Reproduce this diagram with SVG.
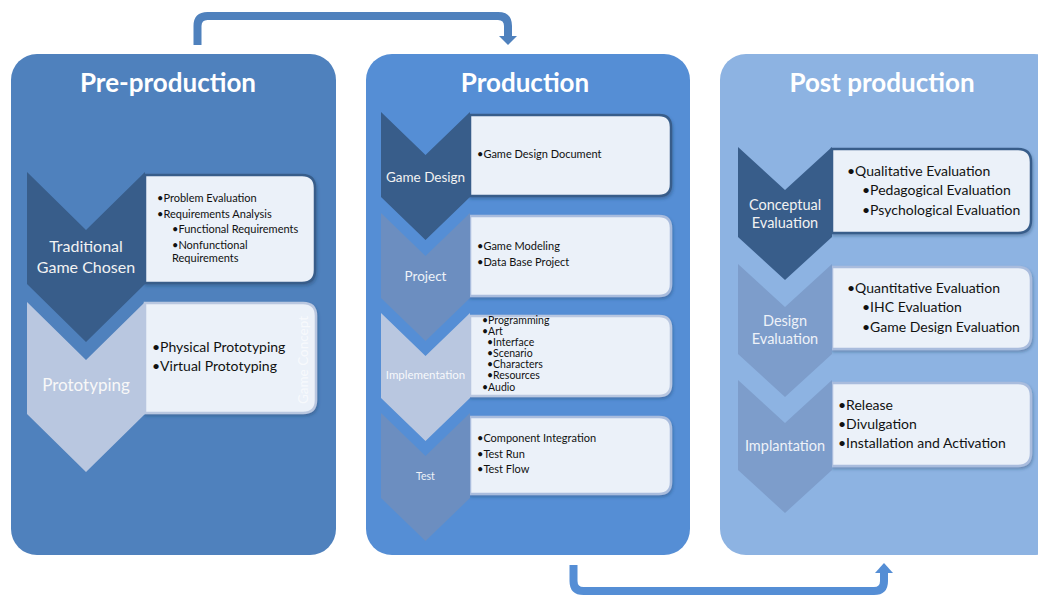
<svg xmlns="http://www.w3.org/2000/svg" width="1038" height="595" viewBox="0 0 1038 595">
  <defs>
    <filter id="shadow" x="-10%" y="-10%" width="125%" height="130%">
      <feDropShadow dx="1" dy="2" stdDeviation="1.5" flood-color="#1F3A5F" flood-opacity="0.35"/>
    </filter>
  </defs>
  <style>
    .title { font-family: "Lato", "Liberation Sans", sans-serif; font-weight: bold; font-size: 26px; fill: #FFFFFF; text-anchor: middle; }
    .lbl { font-family: "Lato", "Liberation Sans", sans-serif; text-anchor: middle; }
    .item { font-family: "Lato", "Liberation Sans", sans-serif; fill: #111111; }
    .box { fill: #EBF1F9; stroke-width: 2.5; filter: url(#shadow); }
    .dark { fill: #385D8A; }
    .mid2 { fill: #6C8EC0; }
    .mid3 { fill: #7D9DCB; }
    .light { fill: #B9C7E0; }
    .conn { fill: none; stroke-width: 8; stroke-linejoin: round; }
  </style>

  <!-- connectors between the phases -->
  <g id="connectors">
    <path class="conn" stroke="#4F81BD" d="M197.5,45 V26 Q197.5,16 207.5,16 H498 Q508,16 508,26 V37"/>
    <polygon fill="#4F81BD" points="499,36 517,36 508,45"/>
    <path class="conn" stroke="#558ED5" d="M573.5,565 V581 Q573.5,591 583.5,591 H874 Q884,591 884,581 V572"/>
    <polygon fill="#558ED5" points="875,573 893,573 884,563"/>
  </g>

  <!-- Pre-production phase -->
  <g id="pre-production">
    <rect x="11" y="54" width="325" height="501" rx="26" fill="#4F81BD"/>
    <text class="title" x="168" y="92">Pre-production</text>

    <g id="traditional-game-chosen">
      <path class="box" stroke="#385D8A" d="M145,175 H302 Q315,175 315,188 V270 Q315,283 302,283 H145 Z"/>
      <path class="dark" d="M27,172 L86,230 L145,172 V284 L86,342 L27,284 Z"/>
      <text class="lbl" x="86" y="252" font-size="16" fill="#F2F2F2">Traditional</text>
      <text class="lbl" x="86" y="273" font-size="16" fill="#F2F2F2">Game Chosen</text>
      <g class="item" font-size="11">
        <text x="157" y="202">•Problem Evaluation</text>
        <text x="157" y="218">•Requirements Analysis</text>
        <text x="172" y="233">•Functional Requirements</text>
        <text x="172" y="249">•Nonfunctional</text>
        <text x="172" y="262">Requirements</text>
      </g>
    </g>

    <g id="prototyping">
      <path class="box" stroke="#B9C7E0" d="M145,303 H303 Q316,303 316,316 V400 Q316,413 303,413 H145 Z"/>
      <path class="light" d="M27,302 L86,360 L145,302 V414 L86,472 L27,414 Z"/>
      <text class="lbl" x="86" y="391" font-size="17" fill="#F8F8F8">Prototyping</text>
      <g class="item" font-size="14">
        <text x="152" y="352">•Physical Prototyping</text>
        <text x="152" y="371">•Virtual Prototyping</text>
      </g>
      <text class="lbl" transform="translate(308,360) rotate(-90)" font-size="13.5" fill="#FFFFFF" fill-opacity="0.65">Game Concept</text>
    </g>
  </g>

  <!-- Production phase -->
  <g id="production">
    <rect x="366" y="54" width="324" height="501" rx="26" fill="#558ED5"/>
    <text class="title" x="525" y="92">Production</text>

    <g id="game-design">
      <path class="box" stroke="#385D8A" d="M470,115 H659 Q671,115 671,127 V184 Q671,196 659,196 H470 Z"/>
      <path class="dark" d="M381,112 L425.5,155 L470,112 V197 L425.5,240 L381,197 Z"/>
      <text class="lbl" x="425.5" y="182" font-size="13.5" fill="#F2F2F2">Game Design</text>
      <text class="item" x="477" y="158" font-size="11">•Game Design Document</text>
    </g>

    <g id="project">
      <path class="box" stroke="#A9BCDD" d="M470,216 H659 Q671,216 671,228 V284 Q671,296 659,296 H470 Z"/>
      <path class="mid2" d="M381,213 L425.5,256 L470,213 V298 L425.5,341 L381,298 Z"/>
      <text class="lbl" x="425.5" y="281" font-size="13.5" fill="#EEF2F8">Project</text>
      <g class="item" font-size="11">
        <text x="477" y="250">•Game Modeling</text>
        <text x="477" y="266">•Data Base Project</text>
      </g>
    </g>

    <g id="implementation">
      <path class="box" stroke="#B9C7E0" d="M470,316 H659 Q671,316 671,328 V384 Q671,396 659,396 H470 Z"/>
      <path class="light" d="M381,313 L425.5,356 L470,313 V398 L425.5,441 L381,398 Z"/>
      <text class="lbl" x="425.5" y="379" font-size="11.5" fill="#FFFFFF" fill-opacity="0.9">Implementation</text>
      <g class="item" font-size="10.5">
        <text x="482" y="324">•Programming</text>
        <text x="482" y="335">•Art</text>
        <text x="487" y="346">•Interface</text>
        <text x="487" y="357">•Scenario</text>
        <text x="487" y="368">•Characters</text>
        <text x="487" y="379">•Resources</text>
        <text x="482" y="391">•Audio</text>
      </g>
    </g>

    <g id="test">
      <path class="box" stroke="#A9BCDD" d="M470,417 H659 Q671,417 671,429 V482 Q671,494 659,494 H470 Z"/>
      <path class="mid2" d="M381,413 L425.5,456 L470,413 V498 L425.5,541 L381,498 Z"/>
      <text class="lbl" x="425.5" y="480" font-size="10.5" fill="#EEF2F8">Test</text>
      <g class="item" font-size="11">
        <text x="477" y="442">•Component Integration</text>
        <text x="477" y="458">•Test Run</text>
        <text x="477" y="473">•Test Flow</text>
      </g>
    </g>
  </g>

  <!-- Post production phase -->
  <g id="post-production">
    <rect x="720" y="54" width="340" height="501" rx="26" fill="#8DB3E2"/>
    <text class="title" x="882" y="92">Post production</text>

    <g id="conceptual-evaluation">
      <path class="box" stroke="#385D8A" d="M832,149 H1018 Q1031,149 1031,162 V220 Q1031,233 1018,233 H832 Z"/>
      <path class="dark" d="M738,147 L785,190 L832,147 V237 L785,280 L738,237 Z"/>
      <text class="lbl" x="785" y="210" font-size="14.5" fill="#F2F2F2">Conceptual</text>
      <text class="lbl" x="785" y="228" font-size="14.5" fill="#F2F2F2">Evaluation</text>
      <g class="item" font-size="14">
        <text x="847" y="176">•Qualitative Evaluation</text>
        <text x="862" y="195">•Pedagogical Evaluation</text>
        <text x="862" y="215">•Psychological  Evaluation</text>
      </g>
    </g>

    <g id="design-evaluation">
      <path class="box" stroke="#A9BCDD" d="M832,267 H1018 Q1031,267 1031,280 V336 Q1031,349 1018,349 H832 Z"/>
      <path class="mid3" d="M738,264 L785,307 L832,264 V354 L785,397 L738,354 Z"/>
      <text class="lbl" x="785" y="326" font-size="14.5" fill="#EEF2F8">Design</text>
      <text class="lbl" x="785" y="344" font-size="14.5" fill="#EEF2F8">Evaluation</text>
      <g class="item" font-size="14">
        <text x="847" y="293">•Quantitative Evaluation</text>
        <text x="862" y="312">•IHC Evaluation</text>
        <text x="862" y="332">•Game Design Evaluation</text>
      </g>
    </g>

    <g id="implantation">
      <path class="box" stroke="#A9BCDD" d="M832,383 H1018 Q1031,383 1031,396 V453 Q1031,466 1018,466 H832 Z"/>
      <path class="mid3" d="M738,380 L785,423 L832,380 V470 L785,513 L738,470 Z"/>
      <text class="lbl" x="785" y="451" font-size="14.5" fill="#EEF2F8">Implantation</text>
      <g class="item" font-size="14">
        <text x="838" y="410">•Release</text>
        <text x="838" y="429">•Divulgation</text>
        <text x="838" y="448">•Installation and Activation</text>
      </g>
    </g>
  </g>
</svg>
